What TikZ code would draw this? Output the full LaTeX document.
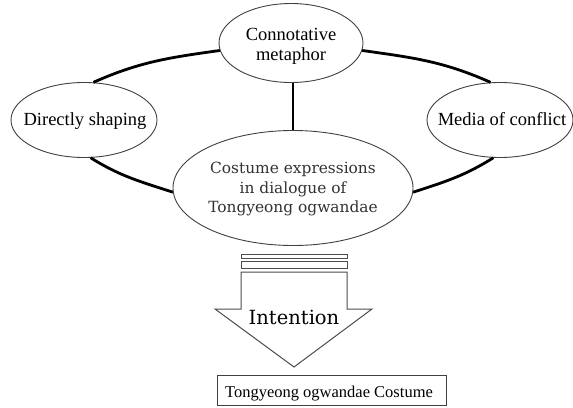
\documentclass[tikz,border=0pt]{standalone}
\usepackage{fontspec}
\setmainfont{Liberation Serif}
\newfontfamily\lsf{Liberation Serif}
\newfontfamily\dvs{DejaVu Serif}
\usetikzlibrary{shapes.geometric}
\begin{document}
\begin{tikzpicture}[x=1pt,y=1pt,
  oval/.style={ellipse, draw=black!75, line width=0.9pt, fill=white, inner sep=0pt},
  link/.style={line width=2.8pt, black},
  lbl/.style={inner sep=0pt, align=center, font=\lsf\fontsize{18.5}{20}\selectfont},
  clbl/.style={inner sep=0pt, align=center, text=black!80, font=\dvs\fontsize{15.4}{19.5}\selectfont},
  blk/.style={draw=black!70, line width=1pt, fill=white}]
\useasboundingbox (0,0) rectangle (573,-407);
% ellipses
\node[oval, minimum width=144, minimum height=79] (top) at (291,-43) {};
\node[oval, minimum width=146, minimum height=75] (left) at (84,-120) {};
\node[oval, minimum width=146, minimum height=75] (right) at (500,-120) {};
\node[oval, minimum width=240, minimum height=115] (center) at (293,-188) {};
% connectors
\draw[link] (top.186) to[out=188, in=24] (left.76);
\draw[link] (left.-80) to[out=-32, in=162] (center.182);
\draw[link] (top.354) to[out=-8, in=156] (right.104);
\draw[link] (right.260) to[out=212, in=18] (center.-2);
\draw[link] (center.north |- top.south) -- (center.north);
% texts
\node[lbl] (topT) at (291,-46) {Connotative\\metaphor};
\node[lbl, anchor=base] (leftT) at (85,-125) {Directly shaping};
\node[lbl, anchor=base] (rightT) at (502,-125) {Media of conflict};
\node[clbl] (centerT) at (293,-189) {Costume expressions\\in dialogue of\\Tongyeong ogwandae};
% block arrow
\draw[blk] (241,-254) rectangle (347,-258);
\draw[blk] (241,-261) rectangle (347,-268);
\draw[blk, line join=miter] (241,-272) -- (347,-272) -- (347,-309) -- (372,-309) -- (294,-367) -- (215,-309) -- (241,-309) -- cycle;
\node[inner sep=0pt, anchor=base, font=\dvs\fontsize{19.5}{22}\selectfont] (intent) at (294,-324) {Intention};
% bottom box
\node[draw=black!75, line width=1pt, minimum width=229, minimum height=30, inner sep=0pt] (bottom) at (331.5,-390) {};
\node[inner sep=0pt, anchor=base, font=\lsf\fontsize{16.5}{18}\selectfont] (bottomT) at (329,-397) {Tongyeong ogwandae Costume};
\end{tikzpicture}
\end{document}
